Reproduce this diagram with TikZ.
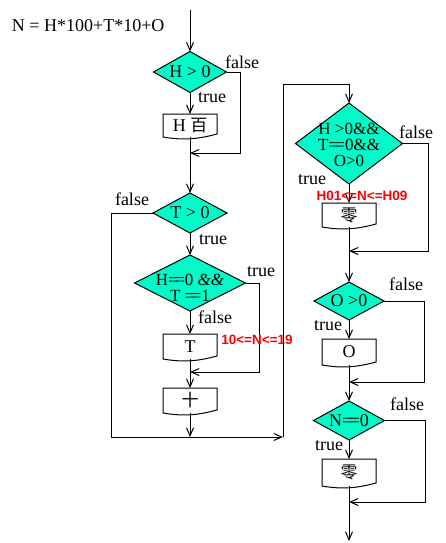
\documentclass[tikz,border=0pt]{standalone}
\usepackage{fontspec}
\setmainfont{Liberation Serif}
\newfontfamily\cjkfont{Noto Sans CJK SC}
\newfontfamily\redsans{Liberation Sans}
\usetikzlibrary{shapes.geometric,arrows.meta,calc}
\definecolor{diafill}{RGB}{0,250,200}
\newcommand\deq{=\kern-2.5pt=}
\newcommand\docbox[1]{\draw[ln] (#1.north west) -- (#1.south west) .. controls ($(#1.south west)+(18,3)$) and ($(#1.south west)+(32,3)$) .. ($(#1.south east)+(0,-3)$) -- (#1.north east) -- cycle;}
\begin{document}
\begin{tikzpicture}[x=1pt,y=-1pt,
  every node/.style={inner sep=0pt, outer sep=0pt},
  lab/.style={font=\fontsize{18}{16}\selectfont},
  mlab/.style={font=\fontsize{17}{15.8}\selectfont, align=center},
  redlab/.style={font=\redsans\bfseries\fontsize{13.5}{15}\selectfont, text=red},
  dia/.style={diamond, draw, line width=1pt, fill=diafill},
  doc/.style={rectangle, minimum width=54pt, font=\fontsize{18}{20}\selectfont},
  arr/.style={-{Straight Barb[length=8pt,width=7pt]}, line width=1pt},
  ln/.style={line width=1pt}]
\fill[white] (0,0) rectangle (445,543);
\useasboundingbox (0,0) rectangle (445,543);

% title
\node[lab, anchor=west] (title) at (12,26) {N = H*100+T*10+O};

% left column
\coordinate (top) at (190,10);
\node[dia, minimum width=73pt, minimum height=41pt, label={[lab]center:H > 0}] (d1) at (190,72) {};
\node[doc, minimum height=23pt] (b1) at (190,125.5) {H {\cjkfont\fontsize{17}{20}\selectfont 百}};
\coordinate (m1) at (190,153);
\coordinate (f1) at (240,153);
\node[dia, minimum width=74pt, minimum height=40pt, label={[lab]center:T > 0}] (d2) at (190,213) {};
\node[dia, minimum width=111pt, minimum height=56pt, label={[mlab,yshift=-5pt]center:{H\deq0 \textit{\&\&}\\T \deq1}}] (d3) at (190,283) {};
\node[doc, minimum height=25pt] (b2) at (190,346.5) {T};
\coordinate (m2) at (190,372);
\coordinate (f3) at (259,372);
\node[doc, minimum height=25pt] (b3) at (190,400.5) {\cjkfont\fontsize{17}{20}\selectfont 十};
\coordinate (m3) at (190,437);
\coordinate (f2) at (111,437);
\coordinate (j1) at (283,437);
\coordinate (j2) at (283,84);
\coordinate (j3) at (349,84);

% right column
\node[dia, minimum width=107pt, minimum height=81pt, label={[mlab,yshift=-1.2pt]center:{H >0\&\&\\T\deq0\&\&\\O>0}}] (d4) at (349,143.5) {};
\node[doc, minimum height=24pt] (b4) at (349,215) {\cjkfont\fontsize{17}{20}\selectfont 零};
\coordinate (m4) at (349,251);
\coordinate (f4) at (428,251);
\node[dia, minimum width=70pt, minimum height=38pt, label={[lab]center:O >0}] (d5) at (349,301) {};
\node[doc, minimum height=26pt] (b5) at (349,352) {O};
\coordinate (m5) at (349,382);
\coordinate (f5) at (424,382);
\node[dia, minimum width=71pt, minimum height=39pt, label={[lab]center:N\deq0}] (d6) at (349,420.5) {};
\node[doc, minimum height=27pt] (b6) at (349,472.5) {\cjkfont\fontsize{17}{20}\selectfont 零};
\coordinate (m6) at (349,502);
\coordinate (f6) at (425,502);
\coordinate (bottom) at (349,541);

% box outlines
\docbox{b1}\docbox{b2}\docbox{b3}\docbox{b4}\docbox{b5}\docbox{b6}

% connectors left
\draw[arr] (top) -- (d1.north);
\draw[arr] (d1.south) -- (b1.north);
\draw[arr] (d1.east) -| (f1) -- (m1);
\draw[ln] (b1.south) -- (m1);
\draw[arr] (m1) -- (d2.north);
\draw[arr] (d2.south) -- (d3.north);
\draw[arr] (d3.south) -- (b2.north);
\draw[arr] (d3.east) -| (f3) -- (m2);
\draw[ln] (b2.south) -- (m2);
\draw[arr] (m2) -- (b3.north);
\draw[arr] (b3.south) -- (m3);
\draw[arr] (d2.west) -| (f2) -- (j1);
\draw[arr] (j1) -- (j2) -- (j3) -- (d4.north);

% connectors right
\draw[arr] (d4.south) -- (b4.north);
\draw[arr] (d4.east) -| (f4) -- (m4);
\draw[ln] (b4.south) -- (m4);
\draw[arr] (m4) -- (d5.north);
\draw[arr] (d5.south) -- (b5.north);
\draw[arr] (d5.east) -| (f5) -- (m5);
\draw[ln] (b5.south) -- (m5);
\draw[arr] (m5) -- (d6.north);
\draw[arr] (d6.south) -- (b6.north);
\draw[arr] (d6.east) -| (f6) -- (m6);
\draw[ln] (b6.south) -- (m6);
\draw[arr] (m6) -- (bottom);

% labels
\node[lab] (l1f) at (242,62) {false};
\node[lab] (l1t) at (212,98) {true};
\node[lab] (l2f) at (132,199) {false};
\node[lab] (l2t) at (213,240) {true};
\node[lab] (l3t) at (261,272) {true};
\node[lab] (l3f) at (215,317) {false};
\node[redlab] (r1) at (257,340) {10<=N<=19};
\node[lab] (l4f) at (416,132) {false};
\node[lab] (l4t) at (312,180) {true};
\node[redlab] (r2) at (362,196) {H01<=N<=H09};
\node[lab] (l5f) at (406,284) {false};
\node[lab] (l5t) at (328,326) {true};
\node[lab] (l6f) at (407,404) {false};
\node[lab] (l6t) at (329,446) {true};
\end{tikzpicture}
\end{document}
